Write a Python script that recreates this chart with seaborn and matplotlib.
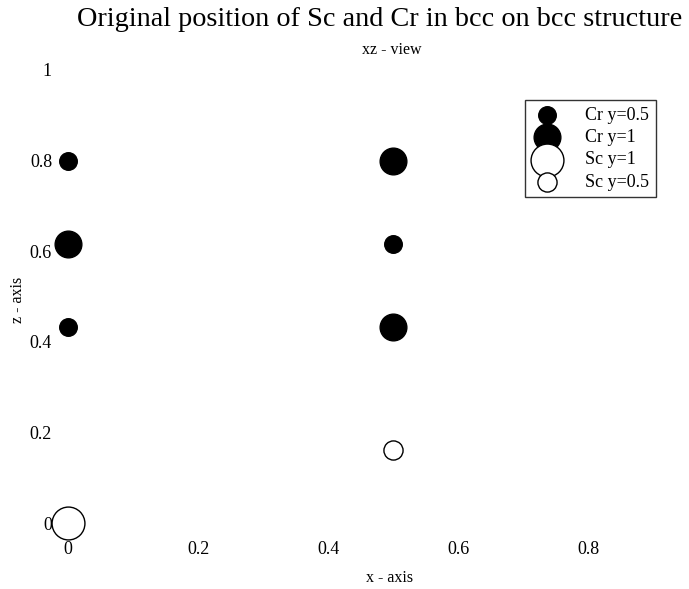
import matplotlib
matplotlib.use("Agg")
import matplotlib.pyplot as plt
import seaborn as sns
import pandas as pd

sns.set_style("white")
plt.rcParams['font.family'] = ['Liberation Serif', 'DejaVu Serif']
plt.rcParams['text.color'] = 'black'
plt.rcParams['xtick.color'] = 'black'
plt.rcParams['ytick.color'] = 'black'
plt.rcParams['axes.labelcolor'] = 'black'

series_labels = ["Cr y=0.5", "Cr y=1", "Sc y=1", "Sc y=0.5"]
cr05_x = [0.0, 0.0, 0.5]
cr05_z = [0.8, 0.433, 0.615]
cr1_x = [0.0, 0.5, 0.5]
cr1_z = [0.615, 0.8, 0.433]
sc1_x = [0.0]
sc1_z = [0.0]
sc05_x = [0.5]
sc05_z = [0.161]
x_ticks = [0, 0.2, 0.4, 0.6, 0.8]
z_ticks = [0, 0.2, 0.4, 0.6, 0.8, 1]

styles = {
    "Cr y=0.5": dict(color="black", s=160),
    "Cr y=1": dict(color="black", s=370),
    "Sc y=1": dict(color="white", s=560),
    "Sc y=0.5": dict(color="white", s=190),
}
data = {
    "Cr y=0.5": (cr05_x, cr05_z),
    "Cr y=1": (cr1_x, cr1_z),
    "Sc y=1": (sc1_x, sc1_z),
    "Sc y=0.5": (sc05_x, sc05_z),
}

fig = plt.figure(figsize=(6.89, 5.89), dpi=100)
ax = fig.add_axes([68/689, 66/589, 0.9*650/689, 453/589])

for lab in series_labels:
    xs, zs = data[lab]
    df = pd.DataFrame({"x": xs, "z": zs})
    st = styles[lab]
    sns.scatterplot(data=df, x="x", y="z", ax=ax, color=st["color"], s=st["s"],
                    edgecolor="black", linewidth=1.0, label=lab, clip_on=False, zorder=3)

ax.set_xlim(0, 0.9)
ax.set_ylim(0, 1)
ax.set_xticks(x_ticks)
ax.set_xticklabels(["0", "0.2", "0.4", "0.6", "0.8"])
ax.set_yticks(z_ticks)
ax.set_yticklabels(["0", "0.2", "0.4", "0.6", "0.8", "1"])
for s in ax.spines.values():
    s.set_visible(False)
ax.tick_params(axis="x", length=0, pad=13, labelsize=13)
ax.tick_params(axis="y", length=0, pad=11.5, labelsize=13)
ax.set_xlabel("")
ax.set_ylabel("")

fig.text(380/689, 1 - 20/589, "Original position of Sc and Cr in bcc on bcc structure",
         ha="center", va="center", fontsize=20.3)
fig.text(392/689, 1 - 50/589, "xz - view", ha="center", va="center", fontsize=11.5)
fig.text(390/689, 1 - 578/589, "x - axis", ha="center", va="center", fontsize=11.5)
fig.text(18/689, 1 - 300/589, "z - axis", ha="center", va="center", fontsize=11.5, rotation=90)

leg = ax.legend(loc="upper left", bbox_to_anchor=(525/689, 1 - 100/589), bbox_transform=fig.transFigure,
                frameon=True, fancybox=False, edgecolor="black", fontsize=13,
                labelspacing=0.29, handletextpad=1.3, borderpad=0.38, handlelength=1.63,
                markerscale=1.0, borderaxespad=0)
leg.get_frame().set_linewidth(1.0)

fig.savefig("out.png", dpi=100)
